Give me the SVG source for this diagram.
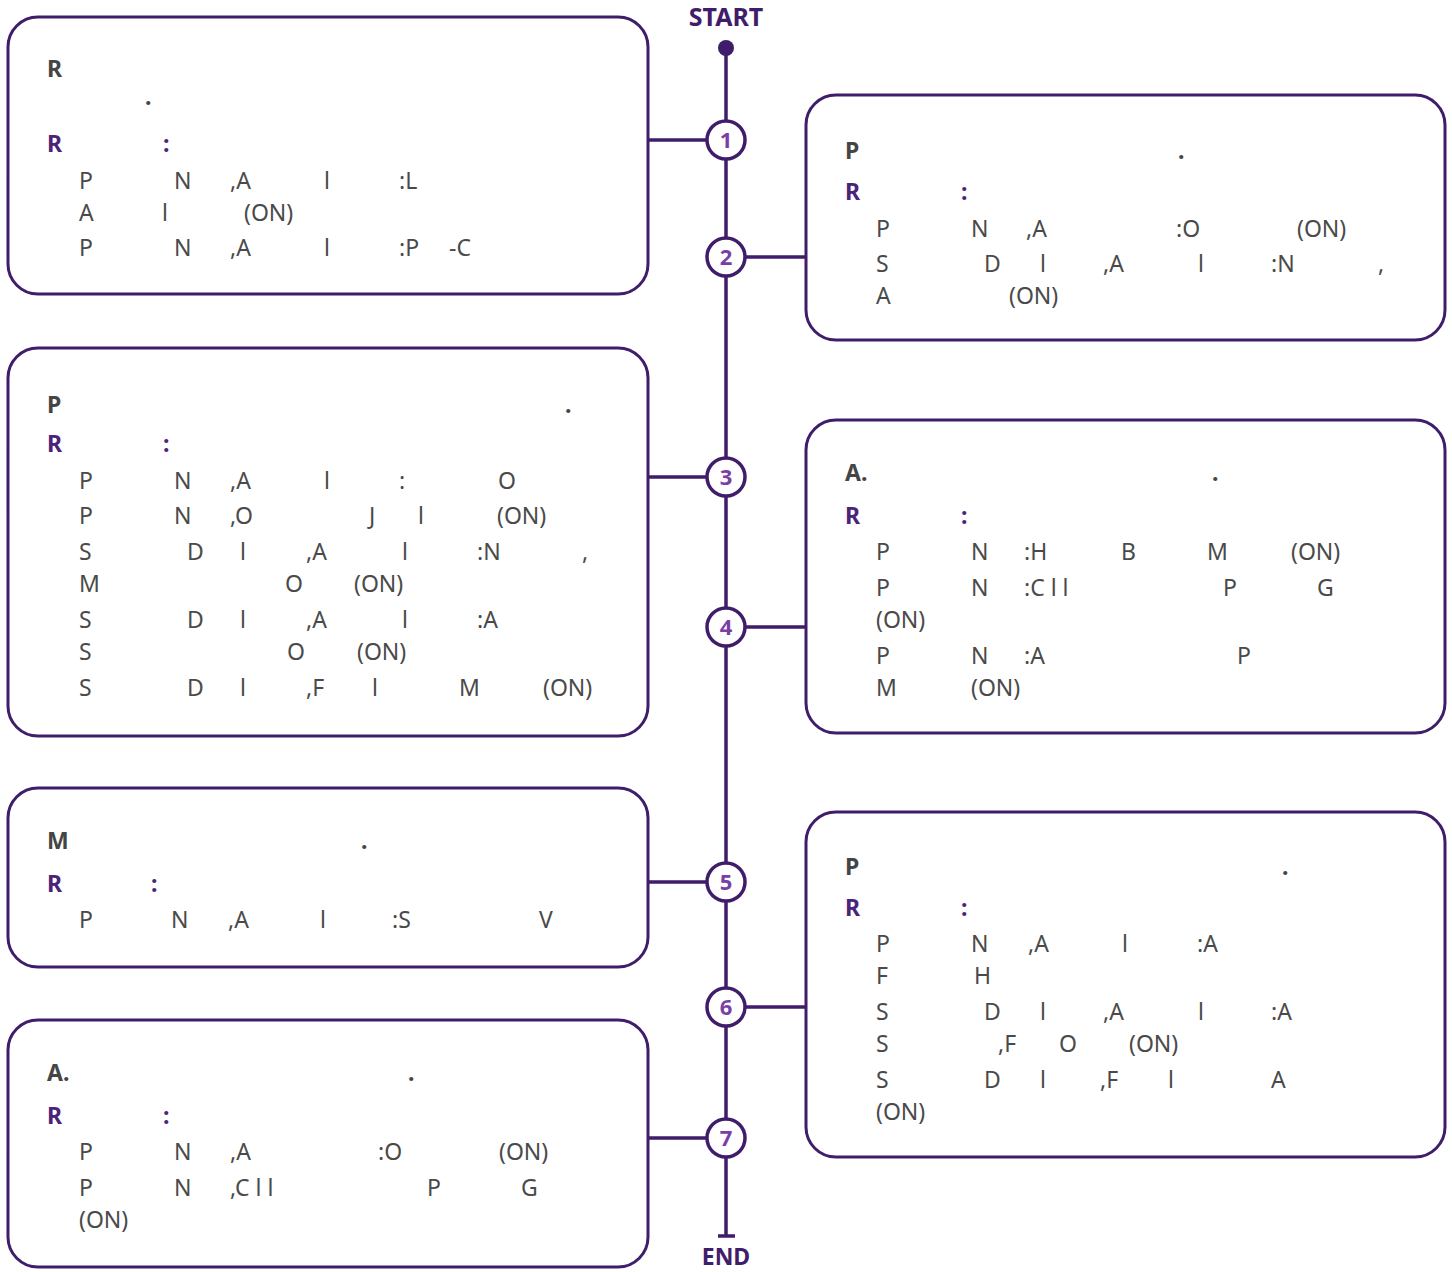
<svg xmlns="http://www.w3.org/2000/svg" width="1452" height="1272" viewBox="0 0 1452 1272">
<style>
.box{fill:#fff;stroke:#3f1d6b;stroke-width:3}
.ln{stroke:#3f1d6b;stroke-width:3.5;fill:none}
.cir{fill:#fff;stroke:#3f1d6b;stroke-width:3.5}
.num{font-family:"Noto Sans",sans-serif;font-weight:700;font-size:22px;fill:#7a3fa6;text-anchor:middle}
.se{font-family:"Noto Sans",sans-serif;font-weight:700;font-size:25px;fill:#3f1d6b;text-anchor:middle}
.end{font-family:"Noto Sans",sans-serif;font-weight:700;font-size:23px;fill:#3f1d6b;text-anchor:middle}
.t{font-family:"Noto Sans",sans-serif;font-weight:700;font-size:23px;fill:#454545}
.r{font-family:"Noto Sans",sans-serif;font-weight:700;font-size:23px;fill:#4b2379}
.i{font-family:"Noto Sans",sans-serif;font-size:23px;fill:#4a4a4a}
</style>
<g id="connectors">
<line class="ln" x1="726" y1="48" x2="726" y2="1236"/>
<circle cx="726" cy="48" r="8" fill="#3f1d6b"/>
<line class="ln" x1="718" y1="1236" x2="735" y2="1236"/>
<line class="ln" x1="648" y1="140" x2="707" y2="140"/>
<line class="ln" x1="745" y1="257" x2="806" y2="257"/>
<line class="ln" x1="648" y1="477" x2="707" y2="477"/>
<line class="ln" x1="745" y1="627" x2="806" y2="627"/>
<line class="ln" x1="648" y1="882" x2="707" y2="882"/>
<line class="ln" x1="745" y1="1007" x2="806" y2="1007"/>
<line class="ln" x1="648" y1="1138" x2="707" y2="1138"/>
</g>
<text class="se" x="726" y="26">START</text>
<text class="end" x="726" y="1265">END</text>
<g id="step1"><circle class="cir" cx="726" cy="140" r="19"/><text class="num" x="726" y="148">1</text></g>
<g id="step2"><circle class="cir" cx="726" cy="257" r="19"/><text class="num" x="726" y="265">2</text></g>
<g id="step3"><circle class="cir" cx="726" cy="477" r="19"/><text class="num" x="726" y="485">3</text></g>
<g id="step4"><circle class="cir" cx="726" cy="627" r="19"/><text class="num" x="726" y="635">4</text></g>
<g id="step5"><circle class="cir" cx="726" cy="882" r="19"/><text class="num" x="726" y="890">5</text></g>
<g id="step6"><circle class="cir" cx="726" cy="1007" r="19"/><text class="num" x="726" y="1015">6</text></g>
<g id="step7"><circle class="cir" cx="726" cy="1138" r="19"/><text class="num" x="726" y="1146">7</text></g>

<g id="box1">
<rect class="box" x="8" y="17" width="640" height="277" rx="30"/>
<text class="t" x="47" y="77">R</text>
<text class="t" x="145" y="105">.</text>
<text class="r" x="47" y="152">R<tspan x="163">:</tspan></text>
<text class="i" y="189"><tspan x="79">P</tspan><tspan x="174">N</tspan><tspan x="230">,A</tspan><tspan x="324">l</tspan><tspan x="399">:L</tspan></text>
<text class="i" y="221"><tspan x="79">A</tspan><tspan x="162">l</tspan><tspan x="244">(ON)</tspan></text>
<text class="i" y="256"><tspan x="79">P</tspan><tspan x="174">N</tspan><tspan x="230">,A</tspan><tspan x="324">l</tspan><tspan x="399">:P</tspan><tspan x="449">-C</tspan></text>
</g>

<g id="box2">
<rect class="box" x="806" y="95" width="639" height="245" rx="30"/>
<text class="t" x="845" y="159">P<tspan x="1178">.</tspan></text>
<text class="r" x="845" y="200">R<tspan x="961">:</tspan></text>
<text class="i" y="237"><tspan x="876">P</tspan><tspan x="971">N</tspan><tspan x="1026">,A</tspan><tspan x="1176">:O</tspan><tspan x="1297">(ON)</tspan></text>
<text class="i" y="272"><tspan x="876">S</tspan><tspan x="984">D</tspan><tspan x="1040">l</tspan><tspan x="1103">,A</tspan><tspan x="1198">l</tspan><tspan x="1271">:N</tspan><tspan x="1378">,</tspan></text>
<text class="i" y="304"><tspan x="876">A</tspan><tspan x="1009">(ON)</tspan></text>
</g>

<g id="box3">
<rect class="box" x="8" y="348" width="640" height="388" rx="30"/>
<text class="t" x="47" y="413">P<tspan x="565">.</tspan></text>
<text class="r" x="47" y="452">R<tspan x="163">:</tspan></text>
<text class="i" y="489"><tspan x="79">P</tspan><tspan x="174">N</tspan><tspan x="230">,A</tspan><tspan x="324">l</tspan><tspan x="399">:</tspan><tspan x="498">O</tspan></text>
<text class="i" y="524"><tspan x="79">P</tspan><tspan x="174">N</tspan><tspan x="230">,O</tspan><tspan x="369">J</tspan><tspan x="418">l</tspan><tspan x="497">(ON)</tspan></text>
<text class="i" y="560"><tspan x="79">S</tspan><tspan x="187">D</tspan><tspan x="240">l</tspan><tspan x="306">,A</tspan><tspan x="402">l</tspan><tspan x="477">:N</tspan><tspan x="582">,</tspan></text>
<text class="i" y="592"><tspan x="79">M</tspan><tspan x="285">O</tspan><tspan x="354">(ON)</tspan></text>
<text class="i" y="628"><tspan x="79">S</tspan><tspan x="187">D</tspan><tspan x="240">l</tspan><tspan x="306">,A</tspan><tspan x="402">l</tspan><tspan x="477">:A</tspan></text>
<text class="i" y="660"><tspan x="79">S</tspan><tspan x="287">O</tspan><tspan x="357">(ON)</tspan></text>
<text class="i" y="696"><tspan x="79">S</tspan><tspan x="187">D</tspan><tspan x="240">l</tspan><tspan x="306">,F</tspan><tspan x="372">l</tspan><tspan x="459">M</tspan><tspan x="543">(ON)</tspan></text>
</g>

<g id="box4">
<rect class="box" x="806" y="420" width="639" height="313" rx="30"/>
<text class="t" x="845" y="481">A.<tspan x="1212">.</tspan></text>
<text class="r" x="845" y="524">R<tspan x="961">:</tspan></text>
<text class="i" y="560"><tspan x="876">P</tspan><tspan x="971">N</tspan><tspan x="1024">:H</tspan><tspan x="1121">B</tspan><tspan x="1207">M</tspan><tspan x="1291">(ON)</tspan></text>
<text class="i" y="596"><tspan x="876">P</tspan><tspan x="971">N</tspan><tspan x="1024">:C l l</tspan><tspan x="1223">P</tspan><tspan x="1317">G</tspan></text>
<text class="i" y="628"><tspan x="876">(ON)</tspan></text>
<text class="i" y="664"><tspan x="876">P</tspan><tspan x="971">N</tspan><tspan x="1024">:A</tspan><tspan x="1237">P</tspan></text>
<text class="i" y="696"><tspan x="876">M</tspan><tspan x="971">(ON)</tspan></text>
</g>

<g id="box5">
<rect class="box" x="8" y="788" width="640" height="179" rx="30"/>
<text class="t" x="47" y="849">M<tspan x="361">.</tspan></text>
<text class="r" x="47" y="892">R<tspan x="151">:</tspan></text>
<text class="i" y="928"><tspan x="79">P</tspan><tspan x="171">N</tspan><tspan x="228">,A</tspan><tspan x="320">l</tspan><tspan x="392">:S</tspan><tspan x="539">V</tspan></text>
</g>

<g id="box6">
<rect class="box" x="806" y="812" width="639" height="345" rx="30"/>
<text class="t" x="845" y="875">P<tspan x="1282">.</tspan></text>
<text class="r" x="845" y="916">R<tspan x="961">:</tspan></text>
<text class="i" y="952"><tspan x="876">P</tspan><tspan x="971">N</tspan><tspan x="1028">,A</tspan><tspan x="1122">l</tspan><tspan x="1197">:A</tspan></text>
<text class="i" y="984"><tspan x="876">F</tspan><tspan x="974">H</tspan></text>
<text class="i" y="1020"><tspan x="876">S</tspan><tspan x="984">D</tspan><tspan x="1040">l</tspan><tspan x="1103">,A</tspan><tspan x="1198">l</tspan><tspan x="1271">:A</tspan></text>
<text class="i" y="1052"><tspan x="876">S</tspan><tspan x="998">,F</tspan><tspan x="1059">O</tspan><tspan x="1129">(ON)</tspan></text>
<text class="i" y="1088"><tspan x="876">S</tspan><tspan x="984">D</tspan><tspan x="1040">l</tspan><tspan x="1100">,F</tspan><tspan x="1168">l</tspan><tspan x="1271">A</tspan></text>
<text class="i" y="1120"><tspan x="876">(ON)</tspan></text>
</g>

<g id="box7">
<rect class="box" x="8" y="1020" width="640" height="247" rx="30"/>
<text class="t" x="47" y="1081">A.<tspan x="408">.</tspan></text>
<text class="r" x="47" y="1124">R<tspan x="163">:</tspan></text>
<text class="i" y="1160"><tspan x="79">P</tspan><tspan x="174">N</tspan><tspan x="230">,A</tspan><tspan x="378">:O</tspan><tspan x="499">(ON)</tspan></text>
<text class="i" y="1196"><tspan x="79">P</tspan><tspan x="174">N</tspan><tspan x="230">,C l l</tspan><tspan x="427">P</tspan><tspan x="521">G</tspan></text>
<text class="i" y="1228"><tspan x="79">(ON)</tspan></text>
</g>
</svg>
